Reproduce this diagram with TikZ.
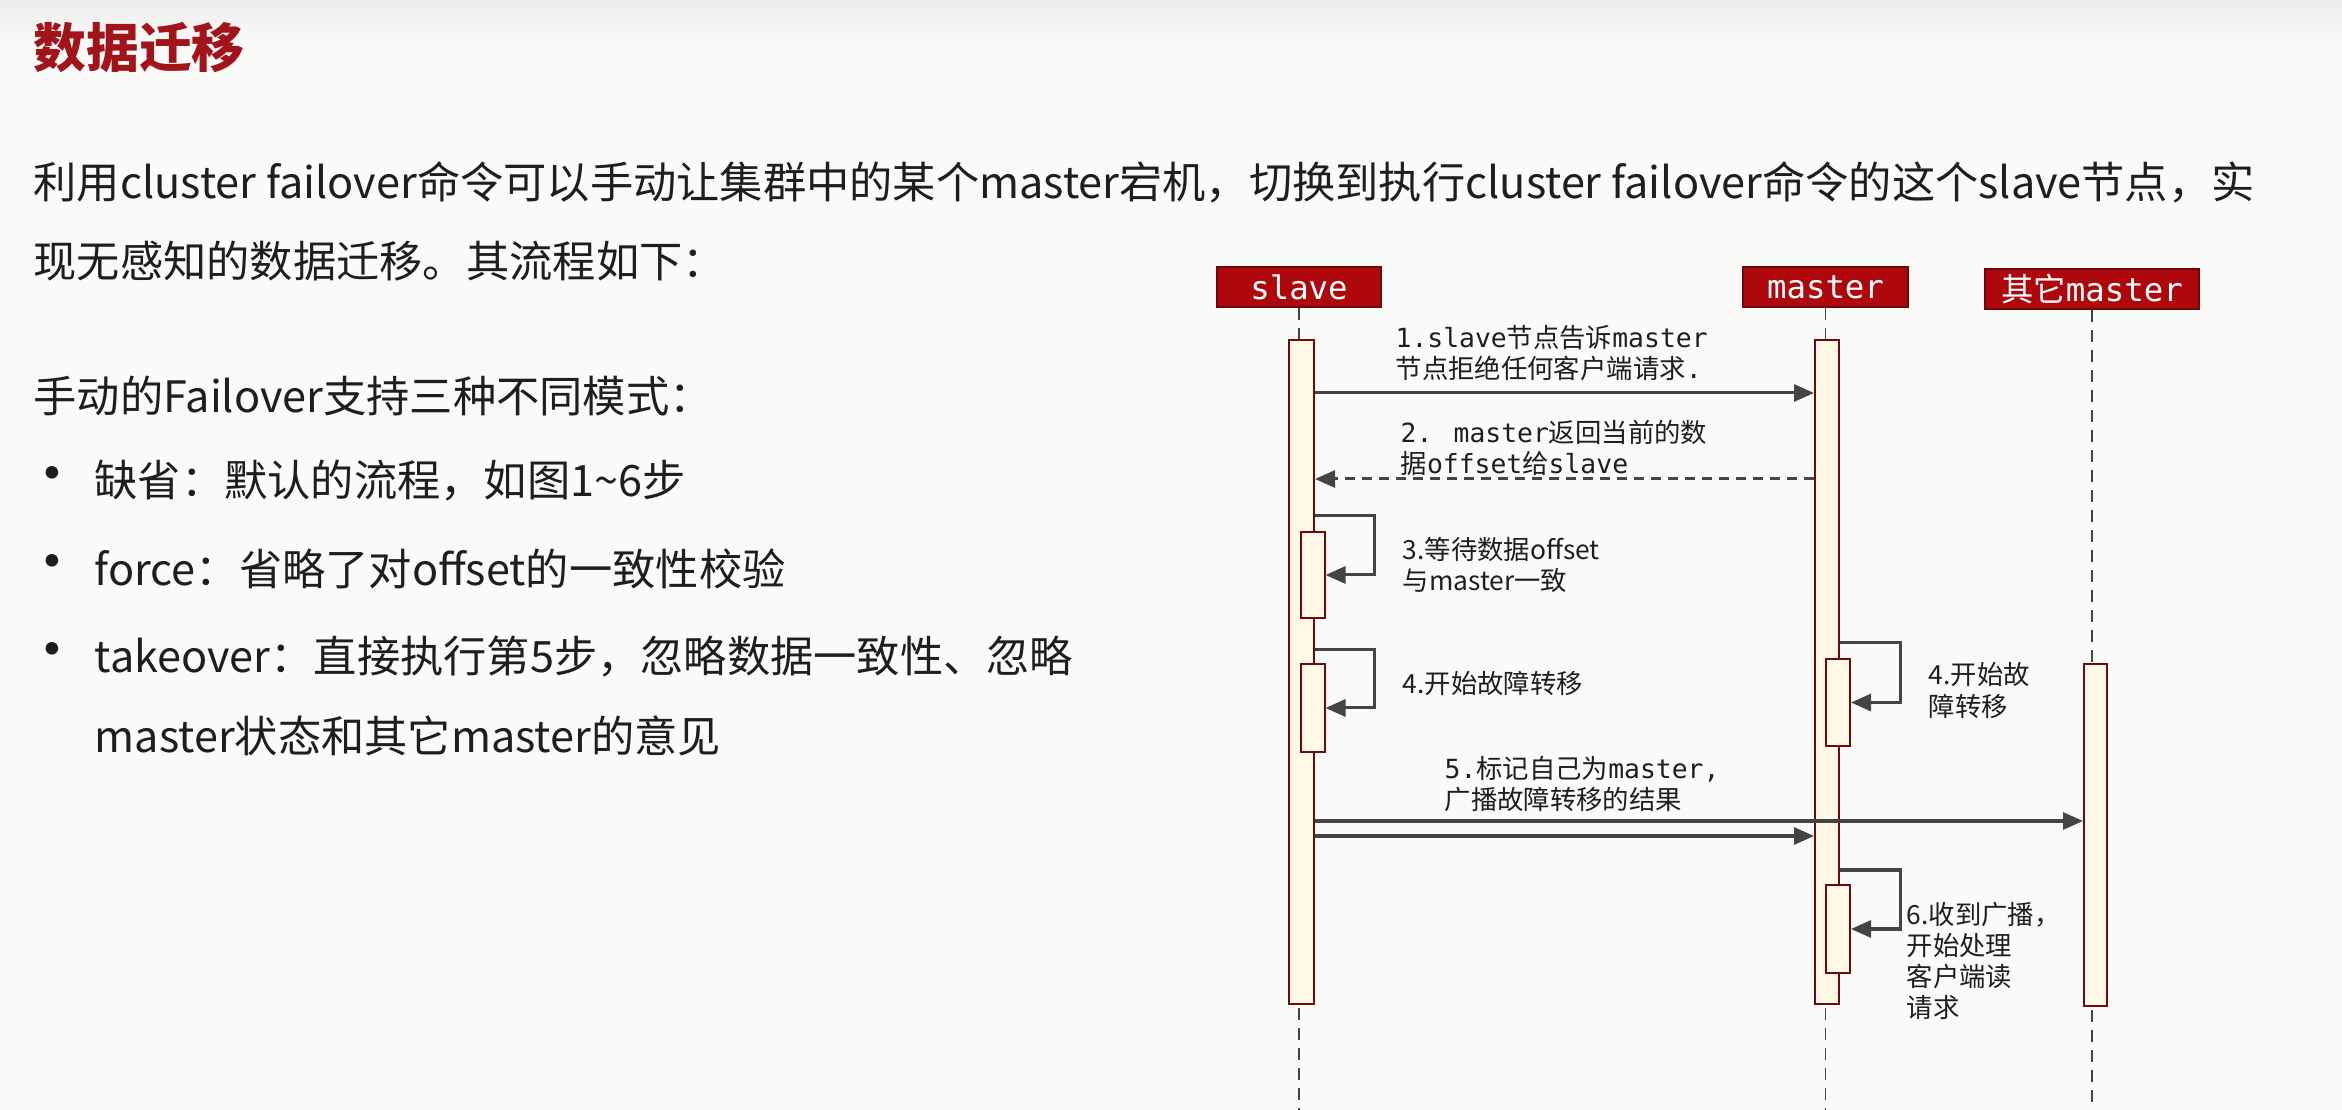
\documentclass[tikz,border=0pt]{standalone}
\usepackage{fontspec}
\setmainfont{Noto Sans CJK SC}
\newfontfamily\monof{DejaVu Sans Mono}
\usepackage{tikz}
\usetikzlibrary{arrows.meta,positioning}
\definecolor{pgBg}{HTML}{FAFAF8}
\definecolor{pgTop}{HTML}{EDEDED}
\definecolor{pgTitle}{HTML}{A3141A}
\definecolor{pgInk}{HTML}{1E1E1E}
\definecolor{seqRed}{HTML}{AE080D}
\definecolor{seqRedDk}{HTML}{700808}
\definecolor{seqBar}{HTML}{FFF8E6}
\definecolor{seqLine}{HTML}{444444}
\tikzset{
  % Page text lines
  bodytxt/.style={anchor=west,inner sep=0pt,text=pgInk,
    font=\fontsize{12.3}{14}\selectfont},
  % Red lifeline head
  headbox/.style={rectangle,draw=seqRedDk,fill=seqRed,line width=0.02cm,
    minimum height=0.40cm,inner sep=0pt,text=white,
    font=\fontsize{9.2}{10}\selectfont\monof},
  % Activation bar
  actbar/.style={rectangle,draw=seqRedDk,fill=seqBar,line width=0.02cm,
    inner sep=0pt},
  % Lifeline
  life/.style={draw=seqLine,line width=0.012cm,dash pattern=on 0.12cm off 0.08cm},
  % Messages
  msg/.style={-{Triangle[length=0.2cm,width=0.17cm]},line width=0.03cm,color=seqLine},
  msgd/.style={msg,dash pattern=on 0.1cm off 0.07cm},
  lbl/.style={anchor=west,align=left,inner sep=0pt,text=pgInk,
    font=\fontsize{7.5}{8.6}\selectfont},
}

\begin{document}
\begin{tikzpicture}[x=0.01cm,y=-0.01cm]
  \useasboundingbox (0,0) rectangle (2342,1110);
  \fill[pgBg] (0,0) rectangle (2342,1110);
  \shade[top color=pgTop,bottom color=pgBg] (0,0) rectangle (2342,45);

  % page text
  \node[bodytxt,text=pgTitle,font=\fontsize{15}{17}\selectfont\bfseries] (title) at (33,48) {数据迁移};
  \node[bodytxt] (intro1) at (33,182)
    {利用cluster failover命令可以手动让集群中的某个master宕机，切换到执行cluster failover命令的这个slave节点，实};
  \node[bodytxt] (intro2) at (33,261) {现无感知的数据迁移。其流程如下：};
  \node[bodytxt] (modes) at (33,396) {手动的Failover支持三种不同模式：};
  \foreach \y/\t [count=\i] in {481/{缺省：默认的流程，如图1\textasciitilde 6步},
      569/{force：省略了对offset的一致性校验},
      657/{takeover：直接执行第5步，忽略数据一致性、忽略}}{
    \node[bodytxt,anchor=center,font=\fontsize{17}{17}\selectfont] (dot\i) at (52,\y) {•};
    \node[bodytxt] (mode\i) at (94,\y) {\t};
  }
  \node[bodytxt] (mode3b) at (94,736) {master状态和其它master的意见};

  % lifeline heads
  \node[headbox,minimum width=1.64cm] (slave) at (1299,287) {slave};
  \node[headbox,minimum width=1.65cm] (master) at (1825.5,287) {master};
  \node[headbox,minimum width=2.14cm] (other) at (2092,289) {\rmfamily 其它\monof master};

  \coordinate (bot) at (0,1110);
  \draw[life] (slave.south) -- (slave.south |- bot);
  \draw[life] (master.south) -- (master.south |- bot);
  \draw[life] (other.south) -- (other.south |- bot);

  % activation bars
  \node[actbar,minimum width=0.25cm,minimum height=6.64cm] (sb) at (1301.5,672) {};
  \node[actbar,minimum width=0.24cm,minimum height=6.64cm] (mb) at (1827,672) {};
  \node[actbar,minimum width=0.23cm,minimum height=3.42cm] (ob) at (2095.5,835) {};
  \node[actbar,minimum width=0.24cm,minimum height=0.86cm] (ss1) at (1312.5,575) {};
  \node[actbar,minimum width=0.24cm,minimum height=0.88cm] (ss2) at (1312.5,708) {};
  \node[actbar,minimum width=0.24cm,minimum height=0.87cm] (ms1) at (1838,702.5) {};
  \node[actbar,minimum width=0.24cm,minimum height=0.88cm] (ms2) at (1838,929) {};

  % messages
  \coordinate (y1) at (0,393);
  \coordinate (y2) at (0,479);
  \coordinate (y3) at (0,516);
  \coordinate (y4) at (0,650);
  \coordinate (y4m) at (0,643);
  \coordinate (y5a) at (0,821);
  \coordinate (y5b) at (0,836);
  \coordinate (y6) at (0,870);

  \draw[msg] (sb.east |- y1) -- (mb.west |- y1);
  \draw[msgd] (mb.west |- y2) -- (sb.east |- y2);
  \draw[msg] (sb.east |- y3) -- ++(59,0) |- (ss1.east);
  \draw[msg] (sb.east |- y4) -- ++(59,0) |- (ss2.east);
  \draw[msg] (mb.east |- y4m) -- ++(60,0) |- (ms1.east);
  \draw[msg] (sb.east |- y5a) -- (ob.west |- y5a);
  \draw[msg] (sb.east |- y5b) -- (mb.west |- y5b);
  \draw[msg] (mb.east |- y6) -- ++(60,0) |- (ms2.east);

  % message labels
  \node[lbl] (l1) at (1395,353) {{\monof 1.slave}节点告诉{\monof master}\\节点拒绝任何客户端请求{\monof .}};
  \node[lbl] (l2) at (1400,448) {{\monof 2. master}返回当前的数\\据{\monof offset}给{\monof slave}};
  \node[lbl] (l3) at (1402,565) {3.等待数据offset\\与master一致};
  \node[lbl] (l4) at (1402,683) {4.开始故障转移};
  \node[lbl,font=\fontsize{7.5}{9.1}\selectfont] (l4m) at (1928,691) {4.开始故\\障转移};
  \node[lbl] (l5) at (1444,784) {{\monof 5.}标记自己为{\monof master,}\\广播故障转移的结果};
  \node[lbl,font=\fontsize{7.5}{8.9}\selectfont] (l6) at (1906,961) {6.收到广播，\\开始处理\\客户端读\\请求};
\end{tikzpicture}
\end{document}
